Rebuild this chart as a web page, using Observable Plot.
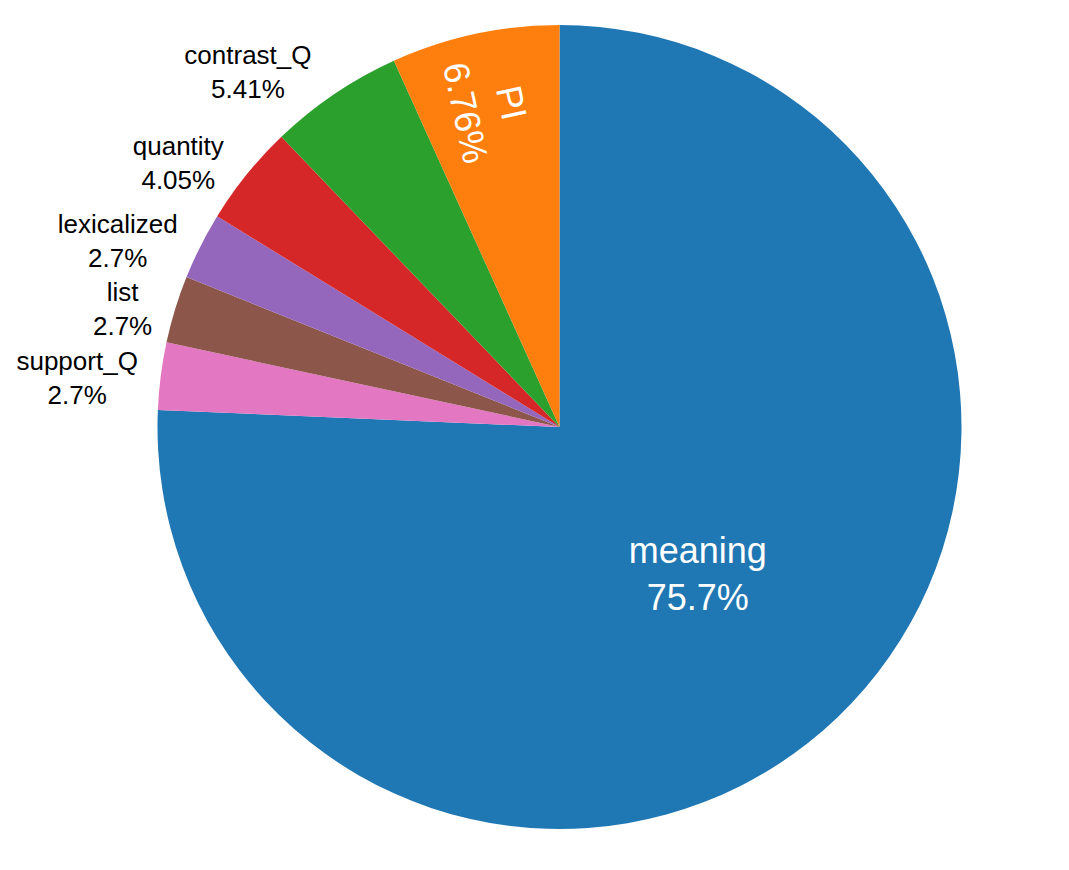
<!DOCTYPE html>
<html>
<head>
<meta charset="utf-8">
<script src="https://cdn.jsdelivr.net/npm/d3@7"></script>
<script src="https://cdn.jsdelivr.net/npm/@observablehq/plot@0.6"></script>
<style>
  html, body { margin: 0; padding: 0; background: #fff; }
  #chart svg { display: block; }
</style>
</head>
<body>
<div id="chart"></div>
<script>
// ---- data (clockwise from 12 o'clock) ----
const labels = ["meaning", "support_Q", "list", "lexicalized", "quantity", "contrast_Q", "PI"];
const counts = [56, 2, 2, 2, 3, 4, 5];
const colors = ["#1f77b4", "#e377c2", "#8c564b", "#9467bd", "#d62728", "#2ca02c", "#ff7f0e"];

// ---- layout ----
const W = 1069, H = 870;
const CX = 559.5, CY = 427, R = 402;
const FONT = "'Liberation Sans', Arial, Helvetica, sans-serif";
const INSIDE_SIZE = 36, OUTSIDE_SIZE = 26, LINE_H = 1.3;

const data = labels.map((label, i) => ({label, count: counts[i]}));
const total = d3.sum(counts);
const fmt = d3.format(".3~p");
const arcs = d3.pie().sort(null).value(d => d.count)(data);
const colorScale = Plot.scale({color: {type: "ordinal", domain: labels, range: colors}});

// text measurement for outside label placement
const ctx = document.createElement("canvas").getContext("2d");
ctx.font = `${OUTSIDE_SIZE}px ${FONT}`;

const insideLabels = [], outsideLabels = [];
for (const a of arcs) {
  const frac = a.data.count / total;
  const mid = (a.startAngle + a.endAngle) / 2;
  const text = `${a.data.label}\n${fmt(frac)}`;
  if (frac > 0.06) {
    let r, rotate;
    if (frac > 0.5) { r = 0.495; rotate = 0; }
    else {
      r = 0.815;
      const deg = mid * 180 / Math.PI;
      rotate = deg > 180 ? deg - 270 : deg - 90;
    }
    insideLabels.push({text, x: r * Math.sin(mid), y: r * Math.cos(mid), rotate});
  } else {
    // plotly-like outside text placement (in px, relative to centre)
    const px = R * Math.sin(mid), py = -R * Math.cos(mid);
    const w = d3.max(text.split("\n"), s => ctx.measureText(s).width) + 12;
    const h = 2 * LINE_H * OUTSIDE_SIZE + 2;
    let dx = w / 2, dy = h / 2;
    if (px < 0) dx = -dx;
    if (py < 0) dy = -dy;
    const ox = dx + Math.abs(dy) * (dx > 0 ? 1 : -1) / 2;
    const oy = dy / (1 + (px * px) / (py * py));
    outsideLabels.push({text, x: (px + ox) / R, y: -(py + oy) / R});
  }
}

function slices(index, scales) {
  const cx = scales.x(0), cy = scales.y(0), r = scales.x(1) - scales.x(0);
  const arc = d3.arc().innerRadius(0).outerRadius(r);
  const g = d3.create("svg:g").attr("transform", `translate(${cx},${cy})`);
  g.selectAll("path").data(arcs).join("path")
    .attr("d", arc)
    .attr("fill", d => colorScale.apply(d.data.label));
  return g.node();
}

const chart = Plot.plot({
  width: W,
  height: H,
  margin: 0,
  x: {domain: [-1, 1], range: [CX - R, CX + R], axis: null},
  y: {domain: [-1, 1], range: [CY + R, CY - R], axis: null},
  style: {fontFamily: FONT, background: "white", overflow: "visible"},
  marks: [
    slices,
    Plot.text(insideLabels, {
      x: "x", y: "y", text: "text", rotate: "rotate",
      fill: "white", fontSize: INSIDE_SIZE, lineHeight: LINE_H,
      textAnchor: "middle", lineAnchor: "middle"
    }),
    Plot.text(outsideLabels, {
      x: "x", y: "y", text: "text",
      fill: "black", fontSize: OUTSIDE_SIZE, lineHeight: LINE_H,
      textAnchor: "middle", lineAnchor: "middle"
    })
  ]
});
document.getElementById("chart").append(chart);
</script>
</body>
</html>
